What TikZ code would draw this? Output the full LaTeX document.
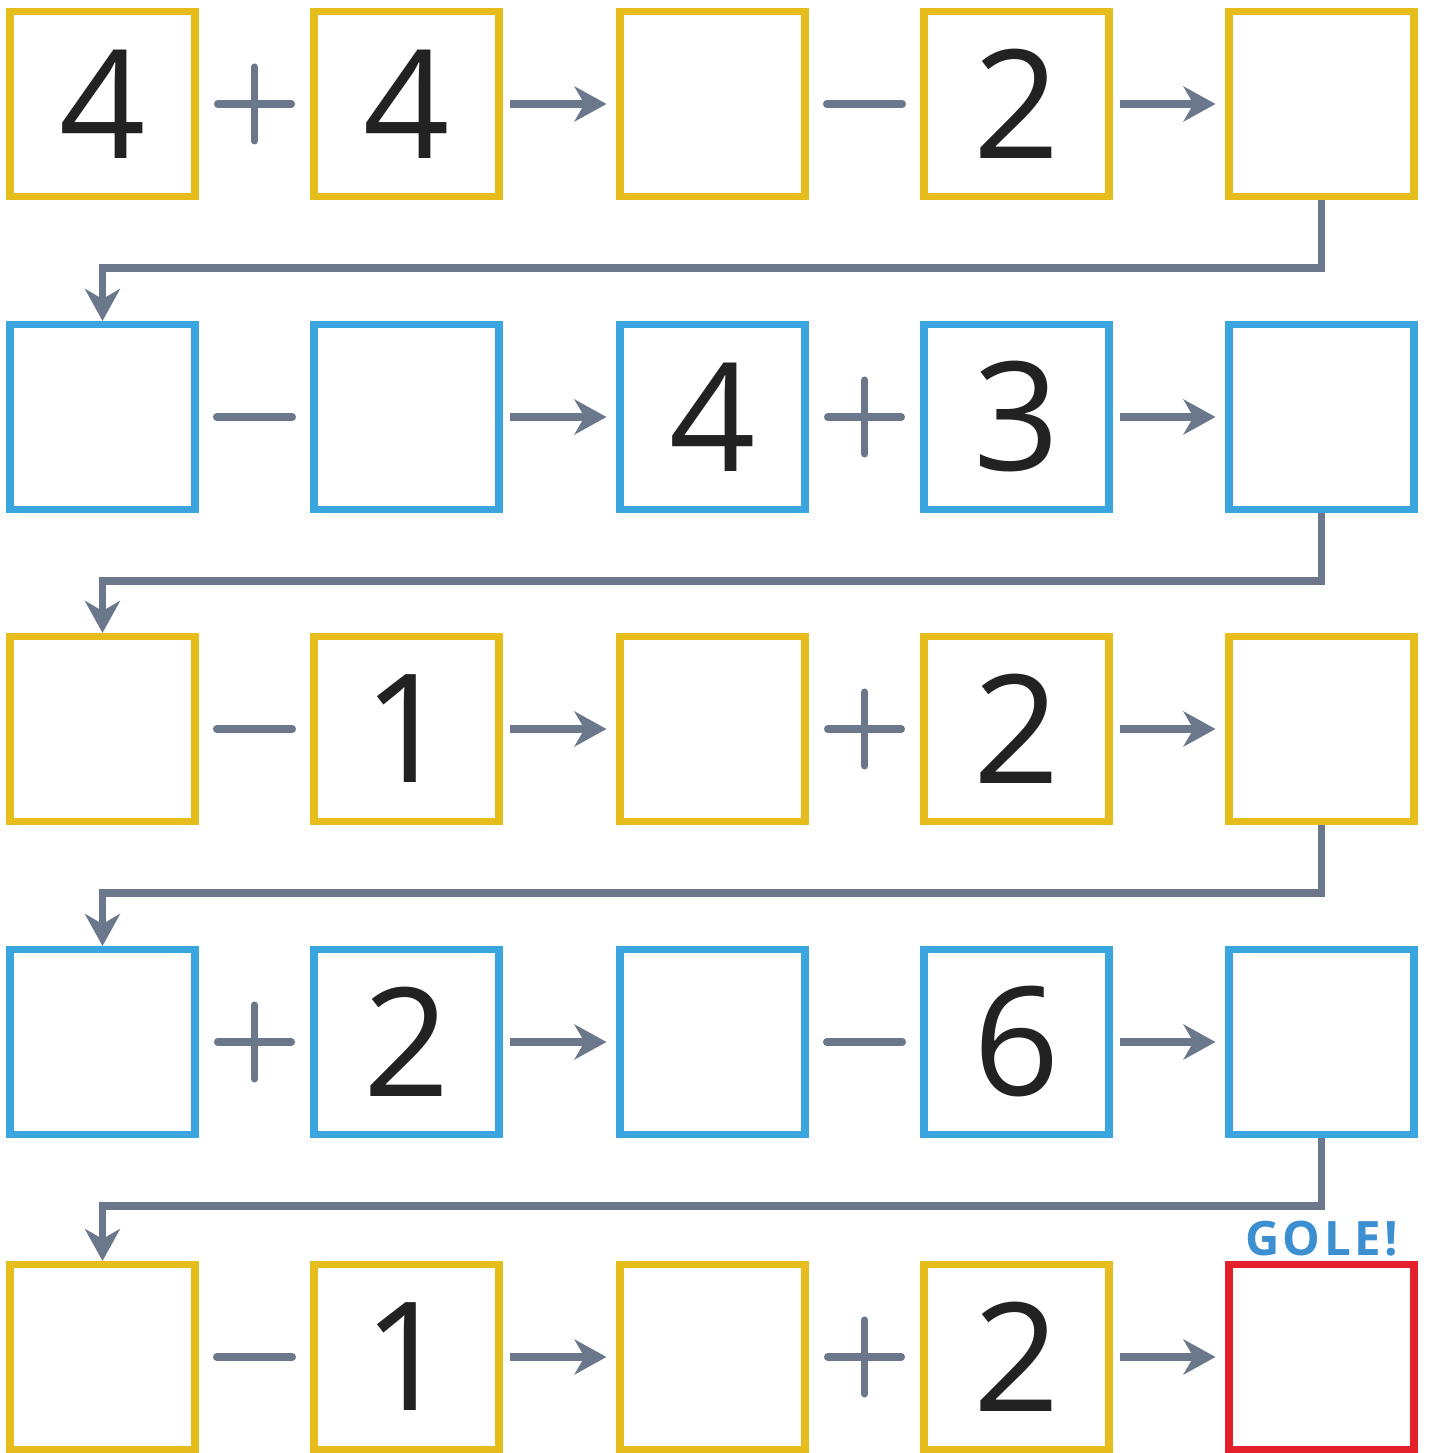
\documentclass[tikz,border=0pt]{standalone}
\usepackage{fontspec}
\setmainfont{Open Sans}
\usetikzlibrary{arrows.meta, calc}

\definecolor{gelb}{HTML}{E6BD1C}
\definecolor{hellblau}{HTML}{3BA5E0}
\definecolor{rot}{HTML}{E4202B}
\definecolor{pfeilgrau}{HTML}{6B788C}
\definecolor{ziffer}{HTML}{222222}
\definecolor{goleblau}{HTML}{3C8FD0}

% Rechenzeichen zwischen zwei Kästen
\newcommand{\zplus}[3]{%
  \coordinate (#3) at ($(#1.east)!0.5!(#2.west)$);
  \draw[zeichen] ($(#3)+(-0.74,0)$) -- ($(#3)+(0.74,0)$);
  \draw[zeichen] ($(#3)+(0,-0.74)$) -- ($(#3)+(0,0.74)$);}
\newcommand{\zminus}[3]{%
  \coordinate (#3) at ($(#1.east)!0.5!(#2.west)$);
  \draw[zeichen] ($(#3)+(-0.76,0)$) -- ($(#3)+(0.76,0)$);}

\begin{document}
\begin{tikzpicture}[
    kasten/.style={draw=#1, line width=4pt, minimum size=3.7cm, inner sep=0pt,
      text=ziffer, font=\fontsize{86}{86}\selectfont},
    zeichen/.style={pfeilgrau, line width=4pt, line cap=round},
    pfeil/.style={pfeilgrau, line width=4pt,
      -{Stealth[length=0.64cm, width=0.7cm, inset=0.2cm]}},
  ]
  % Bildgröße
  \useasboundingbox (0,0) rectangle (28.62,29.06);

  % Zeilen: Nummer/Höhe/Farbe/Zahlen/Zeichen/Farbe des letzten Kastens
  \foreach \z/\y/\f/\a/\b/\opa/\c/\d/\opb/\fe in {
      1/26.98/gelb/4/4/\zplus/{}/2/\zminus/gelb,
      2/20.72/hellblau/{}/{}/\zminus/4/3/\zplus/hellblau,
      3/14.48/gelb/{}/1/\zminus/{}/2/\zplus/gelb,
      4/8.22/hellblau/{}/2/\zplus/{}/6/\zminus/hellblau,
      5/1.92/gelb/{}/1/\zminus/{}/2/\zplus/rot}
  {
    \node[kasten=\f] (k\z1) at (2.05,\y) {\a};
    \node[kasten=\f] (k\z2) at (8.13,\y) {\b};
    \node[kasten=\f] (k\z3) at (14.25,\y) {\c};
    \node[kasten=\f] (k\z4) at (20.33,\y) {\d};
    \node[kasten=\fe] (k\z5) at (26.43,\y) {};

    \opa{k\z1}{k\z2}{op\z a}
    \opb{k\z3}{k\z4}{op\z b}

    \draw[pfeil] ([xshift=0.14cm]k\z2.east) -- ([xshift=-0.2cm]k\z3.west);
    \draw[pfeil] ([xshift=0.14cm]k\z4.east) -- ([xshift=-0.2cm]k\z5.west);
  }

  % Verbindungen zur nächsten Zeile
  \foreach \z in {1,...,4} {
    \pgfmathtruncatemacro{\n}{\z+1}
    \draw[pfeil] (k\z5.south) -- ++(0,-1.36) -| (k\n1.north);
  }

  % Ziel
  \node[anchor=south, inner sep=0pt, text=goleblau,
    font=\bfseries\fontsize{27}{27}\selectfont\addfontfeatures{LetterSpace=7}]
    (gole) at ([yshift=0.1cm]k55.north) {GOLE!};
\end{tikzpicture}
\end{document}
